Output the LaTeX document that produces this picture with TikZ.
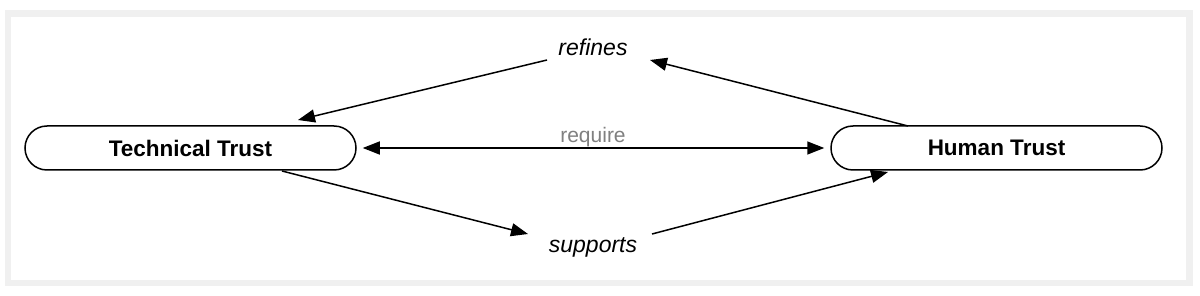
\documentclass[tikz,border=0pt]{standalone}
\usepackage{fontspec}
\setmainfont{Liberation Sans}
\usetikzlibrary{arrows.meta}
\begin{document}
\begin{tikzpicture}[x=1pt,y=-1pt,
  trust/.style={draw=black, line width=1.5pt, rounded corners=22pt, minimum width=331pt, minimum height=44pt, inner sep=0pt, font=\fontsize{22.5}{26}\selectfont\bfseries, fill=white},
  lbl/.style={font=\fontsize{23}{27}\selectfont\itshape, inner sep=0pt},
  tip/.style={Triangle[length=17pt,width=13pt]},
  conn/.style={line width=1.5pt, -{Triangle[length=17pt,width=13pt]}}
]
\useasboundingbox (0,0) rectangle (1200,296);
\fill[white] (0,0) rectangle (1200,296);
\draw[draw=black!6, line width=6.5pt] (8,13.5) rectangle (1189.5,283);
\node[trust] (tech) at (190.5,148) {Technical Trust};
\node[trust] (human) at (996.5,148) {Human Trust};
\node[lbl] (ref) at (593,47) {refines};
\node[lbl] (sup) at (593,247) {supports};
\node[font=\fontsize{21}{25}\selectfont, text=black!50, inner sep=0pt] (req) at (593,137) {require};
\coordinate (h1) at (908,126);
\coordinate (r2) at (650,60);
\coordinate (r1) at (547,60);
\coordinate (t1) at (298,120);
\coordinate (t2) at (282,171);
\coordinate (s1) at (528,234);
\coordinate (s2) at (652,234);
\coordinate (h2) at (888,172);
\draw[conn] (h1) -- (r2);
\draw[conn] (r1) -- (t1);
\draw[conn] (t2) -- (s1);
\draw[conn] (s2) -- (h2);
\draw[line width=1.5pt, {Triangle[length=17pt,width=13pt]}-{Triangle[length=17pt,width=13pt]}] ([xshift=6pt]tech.east) -- ([xshift=-6pt]human.west);
\end{tikzpicture}
\end{document}
